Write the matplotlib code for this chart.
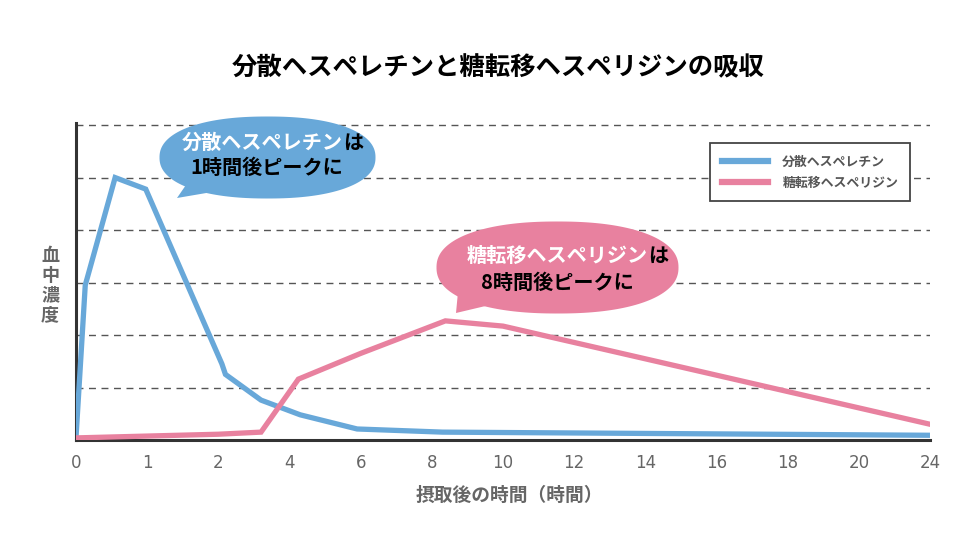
import numpy as np
import matplotlib
matplotlib.use("Agg")
import matplotlib.pyplot as plt
from matplotlib.patches import Polygon

plt.rcParams['font.family'] = ['Noto Sans CJK JP', 'DejaVu Sans']

# x axis: evenly spaced ticks, uneven hours
tick_hours = [0, 1, 2, 4, 6, 8, 10, 12, 14, 16, 18, 20, 24]
tick_labels = [str(h) for h in tick_hours]

# 分散ヘスペレチン (hours, concentration)
hes_hours = [0, 0.13, 0.55, 0.98, 2.1, 2.2, 3.2, 4.3, 5.9, 8.3, 24]
hes_conc = [0.05, 2.95, 5.0, 4.78, 1.45, 1.25, 0.76, 0.48, 0.21, 0.15, 0.09]

# 糖転移ヘスペリジン
gh_hours = [0, 2.0, 3.2, 4.25, 6.0, 8.38, 10.0, 24]
gh_conc = [0.04, 0.11, 0.15, 1.16, 1.65, 2.27, 2.17, 0.3]

blue = '#68a8d9'
pink = '#e8819f'
gray = '#666666'

W, H = 980, 551


def px(x, y):
    return (x / W, 1 - y / H)


def to_pos(hours):
    return np.interp(hours, tick_hours, np.arange(len(tick_hours)))


fig = plt.figure(figsize=(9.8, 5.51), dpi=100)
ax = fig.add_axes([76 / W, 1 - 440 / H, 854 / W, 317 / H])

ax.plot(to_pos(hes_hours), hes_conc, color=blue, lw=3.8, solid_joinstyle='miter',
        label='分散ヘスペレチン', zorder=3)
ax.plot(to_pos(gh_hours), gh_conc, color=pink, lw=3.8, solid_joinstyle='miter',
        label='糖転移ヘスペリジン', zorder=3)

ax.set_xlim(0, 12)
ax.set_ylim(0, 6.04)
ax.set_xticks(np.arange(len(tick_hours)))
ax.set_xticklabels(tick_labels, color=gray, fontsize=12,
                   family=['Liberation Sans Narrow', 'DejaVu Sans'])
ax.set_yticks([1, 2, 3, 4, 5, 6])
ax.set_yticklabels([])
ax.tick_params(axis='both', length=0)
ax.tick_params(axis='x', pad=10)
ax.yaxis.grid(True, linestyle=(0, (5, 4)), color='#555555', lw=1)
ax.set_axisbelow(True)
for s in ['top', 'right']:
    ax.spines[s].set_visible(False)
for s in ['left', 'bottom']:
    ax.spines[s].set_color('#333333')
    ax.spines[s].set_linewidth(2.2)

leg = ax.legend(loc='upper left', bbox_to_anchor=px(710, 143),
                bbox_transform=fig.transFigure, borderaxespad=0,
                fancybox=False, edgecolor='#444444', framealpha=1,
                prop={'size': 9.3, 'weight': 'bold'}, handlelength=3.6,
                handletextpad=1.1, borderpad=0.9, labelspacing=0.55)
leg.get_frame().set_linewidth(1.3)
for t in leg.get_texts():
    t.set_color('#555555')
for l in leg.get_lines():
    l.set_linewidth(4.5)

# title and axis labels
fig.text(*px(498, 68), '分散ヘスペレチンと糖転移ヘスペリジンの吸収',
         ha='center', va='center', fontsize=18.3, weight='bold', color='black')
fig.text(*px(509, 495), '摂取後の時間（時間）', ha='center', va='center',
         fontsize=13.5, weight='bold', color=gray)
fig.text(*px(50, 285), '血\n中\n濃\n度', ha='center', va='center',
         fontsize=13, weight='bold', color=gray, linespacing=1.05)


# speech bubbles
def bubble(cx, cy, a, b, tail, color):
    t = np.linspace(0, 2 * np.pi, 200)
    n = 2.25
    xs = cx + a * np.sign(np.cos(t)) * np.abs(np.cos(t)) ** (2 / n)
    ys = cy + b * np.sign(np.sin(t)) * np.abs(np.sin(t)) ** (2 / n)
    body = Polygon([px(x, y) for x, y in zip(xs, ys)], closed=True,
                   transform=fig.transFigure, facecolor=color, edgecolor='none', zorder=5)
    tl = Polygon([px(x, y) for x, y in tail], closed=True,
                 transform=fig.transFigure, facecolor=color, edgecolor='none', zorder=5)
    fig.add_artist(body)
    fig.add_artist(tl)


bubble(267.5, 157.5, 108, 41, [(188, 182), (177, 198), (218, 191)], blue)
bubble(557.5, 267.5, 121, 46, [(458, 292), (456, 313), (494, 304)], pink)

fs = 14.5
fig.text(*px(343, 142), '分散ヘスペレチン', ha='right', va='center', fontsize=fs,
         weight='bold', color='white', zorder=6)
fig.text(*px(343, 142), 'は', ha='left', va='center', fontsize=fs,
         weight='bold', color='black', zorder=6)
fig.text(*px(267, 167), '1時間後ピークに', ha='center', va='center', fontsize=fs,
         weight='bold', color='black', zorder=6)

fig.text(*px(648, 255), '糖転移ヘスペリジン', ha='right', va='center', fontsize=fs,
         weight='bold', color='white', zorder=6)
fig.text(*px(648, 255), 'は', ha='left', va='center', fontsize=fs,
         weight='bold', color='black', zorder=6)
fig.text(*px(557, 282), '8時間後ピークに', ha='center', va='center', fontsize=fs,
         weight='bold', color='black', zorder=6)

fig.savefig('out.png', dpi=100, facecolor='white')
